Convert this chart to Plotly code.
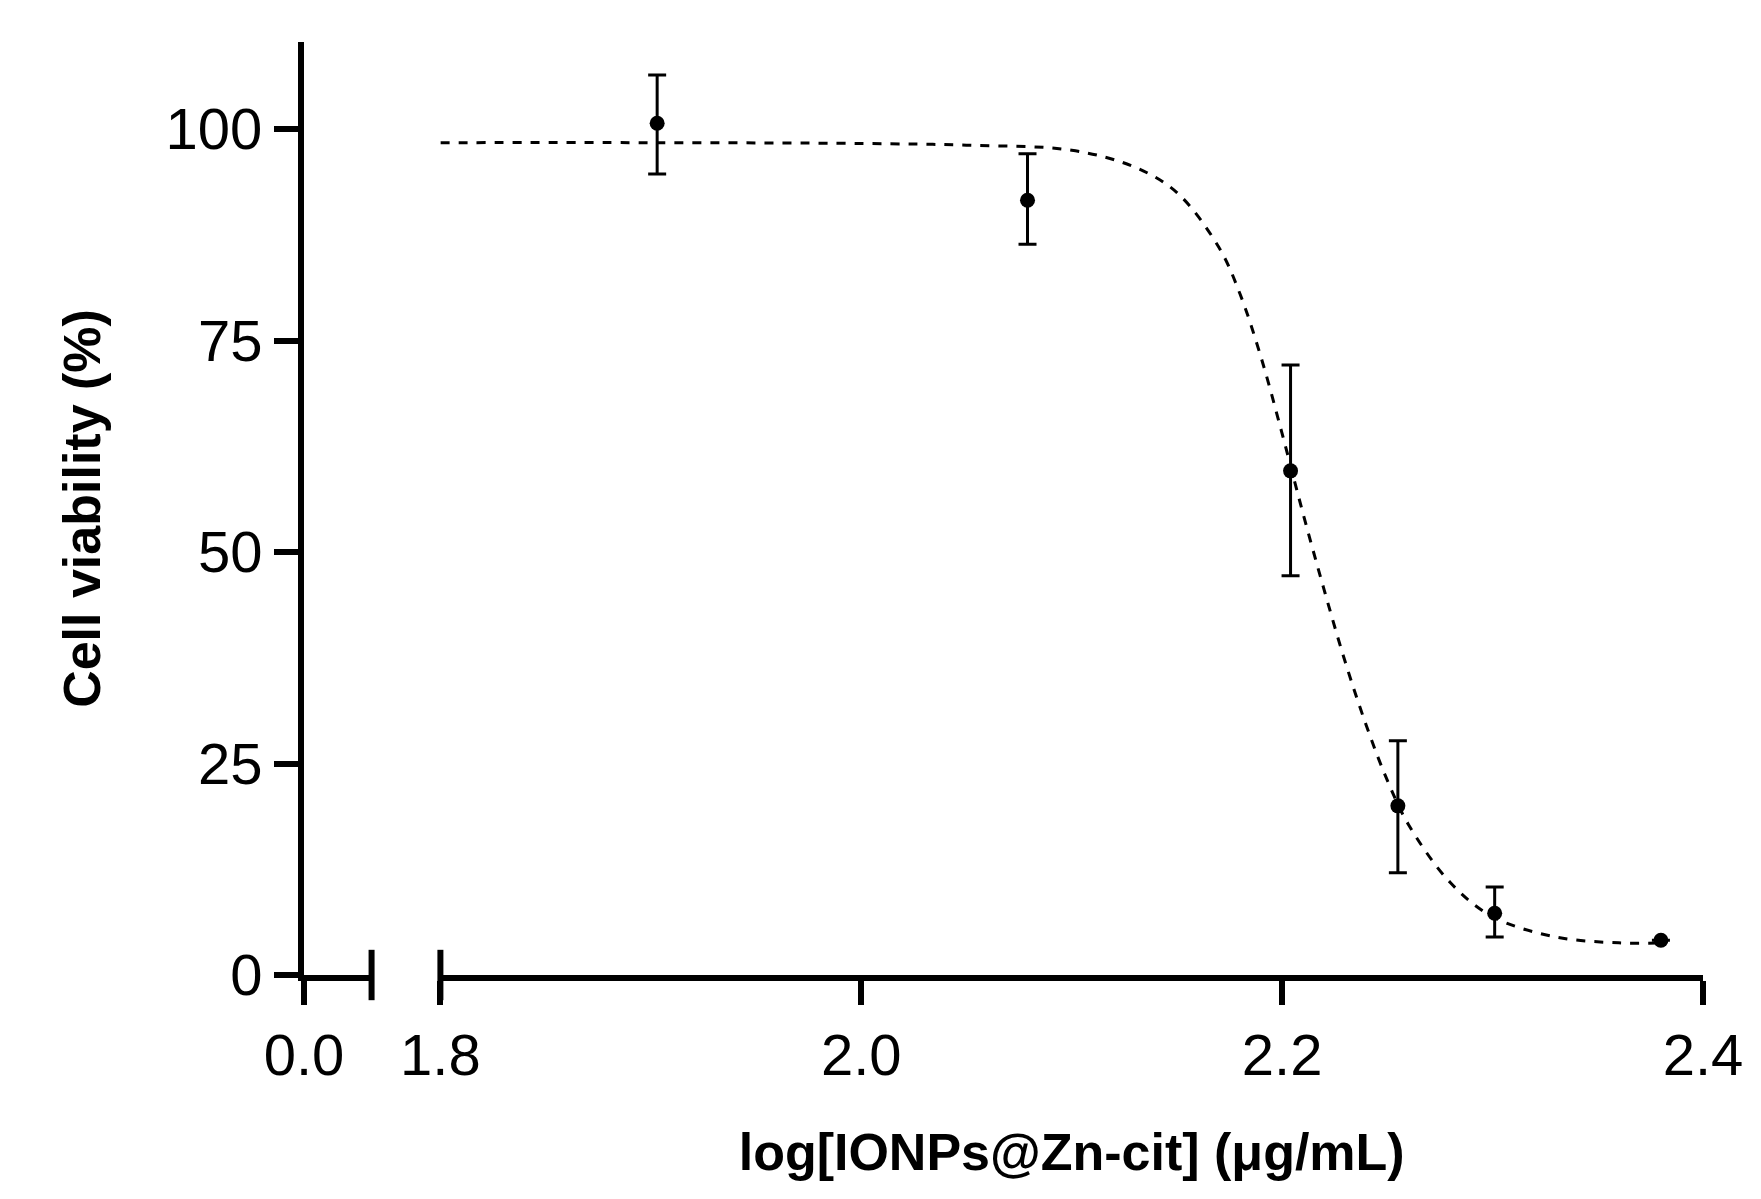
import plotly.graph_objects as go

x_pts = [1.903, 2.079, 2.204, 2.255, 2.301, 2.380]
y_pts = [100.7, 91.6, 59.6, 20.0, 7.3, 4.1]
err_plus = [5.7, 5.5, 12.5, 7.7, 3.1, 0]
err_minus = [6.0, 5.2, 12.4, 7.9, 2.8, 0]

curve_x = [1.80, 1.90, 2.00, 2.05, 2.10, 2.13, 2.15, 2.17, 2.18, 2.19, 2.20, 2.21, 2.22, 2.23, 2.24, 2.25, 2.26, 2.28, 2.30, 2.33, 2.36, 2.38]
curve_y = [98.4, 98.4, 98.3, 98.1, 97.5, 95.5, 92.5, 86.0, 80.5, 73.0, 64.0, 54.5, 45.5, 37.0, 29.5, 23.0, 17.8, 10.9, 6.9, 4.5, 3.8, 3.8]

xticks1 = [0]
xticks2 = [1.8, 2.0, 2.2, 2.4]
yticks = [0, 25, 50, 75, 100]

font = "Liberation Sans, Arial, sans-serif"
fig = go.Figure()
fig.add_trace(go.Scatter(x=[0.01], y=[-10], mode="markers", marker=dict(opacity=0), xaxis="x", yaxis="y",
                         showlegend=False, hoverinfo="skip"))
fig.add_trace(go.Scatter(x=curve_x, y=curve_y, mode="lines", line=dict(color="black", width=3, dash="dash", shape="spline"),
                         xaxis="x2", yaxis="y", showlegend=False))
fig.add_trace(go.Scatter(x=x_pts, y=y_pts, mode="markers", marker=dict(color="black", size=15),
                         error_y=dict(type="data", array=err_plus, arrayminus=err_minus, color="black", thickness=3, width=9),
                         xaxis="x2", yaxis="y", showlegend=False))

axcommon = dict(showline=True, linecolor="black", linewidth=6, ticks="outside", ticklen=24, tickwidth=6,
                tickcolor="black", showgrid=False, zeroline=False, tickfont=dict(family=font, size=58, color="black"))
fig.update_layout(
    width=1761, height=1199, paper_bgcolor="white", plot_bgcolor="white",
    margin=dict(l=296, r=66, t=34, b=232),
    xaxis=dict(domain=[0, 0.0483], range=[0, 0.032], tickvals=xticks1, ticktext=["0.0"], anchor="y", **axcommon),
    xaxis2=dict(domain=[0.0975, 1], range=[1.8, 2.4], tickvals=xticks2, ticktext=["1.8", "2.0", "2.2", "2.4"], anchor="y",
                title=dict(text="<b>log[IONPs@Zn-cit] (μg/mL)</b>", font=dict(family=font, size=52, color="black"), standoff=50), **axcommon),
    yaxis=dict(range=[0, 110.3], tickvals=yticks, anchor="x",
               title=dict(text="<b>Cell viability (%)</b>", font=dict(family=font, size=52, color="black"), standoff=50), **axcommon),
)
for xr, xv in [("x domain", 1), ("x2 domain", 0)]:
    fig.add_shape(type="line", xref=xr, yref="paper", x0=xv, x1=xv, y0=-0.027, y1=0.027,
                  line=dict(color="black", width=6))
fig.write_html("out.html")
